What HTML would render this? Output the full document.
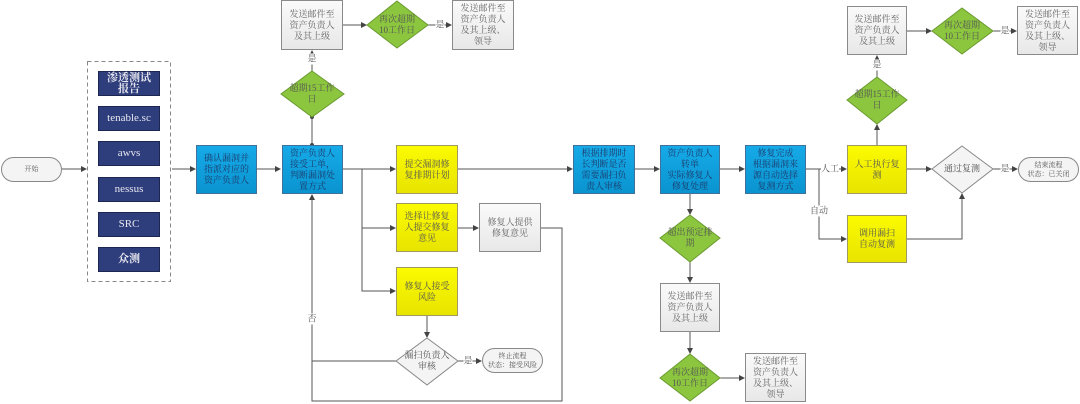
<!DOCTYPE html>
<html><head><meta charset="utf-8"><style>
body{margin:0;width:1080px;height:404px;background:#fff;overflow:hidden;position:relative;font-family:"Liberation Serif","Noto Serif CJK SC","Noto Sans CJK SC",serif;}
.b{position:absolute;box-sizing:border-box;display:flex;align-items:center;justify-content:center;text-align:center;font-size:9px;line-height:11px;padding:2px 4px;}
.blue{background:linear-gradient(#16aae8,#0a94d0);border:1px solid #41709a;color:#1d3a6a;}
.yel{background:linear-gradient(#fbfb00,#e8e400);border:1px solid #a09a60;color:#555;}
.gry{background:linear-gradient(#fafafa,#e8e8e8);border:1px solid #8a8a8a;color:#666;}
.nav{background:#2e3d7b;border:1px solid #1c2650;color:#e8e8f0;font-size:11px;}
.pill{border-radius:13px;background:#f4f4f4;border:1px solid #888;color:#555;font-size:7px;line-height:9px;}
.t{position:absolute;font-size:9px;color:#555;transform:translate(-50%,-50%);text-align:center;line-height:11px;white-space:nowrap;}
</style></head><body>
<svg width="1080" height="404" style="position:absolute;left:0;top:0">
<defs><marker id="a" markerWidth="6" markerHeight="6" refX="5" refY="3" orient="auto" markerUnits="userSpaceOnUse"><path d="M0,0L6,3L0,6z" fill="#444"/></marker></defs>
<g stroke="#555" stroke-width="1" fill="none">
<rect x="87.5" y="61.5" width="83" height="220" stroke-dasharray="4,3" stroke="#888"/>
<line x1="62" y1="169" x2="86" y2="169" marker-end="url(#a)"/>
<line x1="172" y1="169" x2="195" y2="169" marker-end="url(#a)"/>
<line x1="257" y1="169" x2="280" y2="169" marker-end="url(#a)"/>
<line x1="343" y1="169" x2="395" y2="169" marker-end="url(#a)"/>
<polyline points="362,169 362,291 395,291" marker-end="url(#a)"/>
<line x1="362" y1="228" x2="395" y2="228" marker-end="url(#a)"/>
<line x1="458" y1="228" x2="478" y2="228" marker-end="url(#a)"/>
<polyline points="541,228 562,228 562,401 312,401 312,195" marker-end="url(#a)"/>
<line x1="396" y1="361" x2="312" y2="361"/>
<line x1="427" y1="316" x2="427" y2="337" marker-end="url(#a)"/>
<line x1="458" y1="361" x2="481" y2="361" marker-end="url(#a)"/>
<line x1="312" y1="145" x2="312" y2="117"/>
<line x1="312" y1="71" x2="312" y2="51" marker-end="url(#a)"/>
<line x1="343" y1="25" x2="366" y2="25" marker-end="url(#a)"/>
<line x1="428" y1="25" x2="451" y2="25" marker-end="url(#a)"/>
<line x1="458" y1="169" x2="572" y2="169" marker-end="url(#a)"/>
<line x1="635" y1="169" x2="659" y2="169" marker-end="url(#a)"/>
<line x1="720" y1="169" x2="744" y2="169" marker-end="url(#a)"/>
<line x1="806" y1="169" x2="846" y2="169" marker-end="url(#a)"/>
<polyline points="819,169 819,239 846,239" marker-end="url(#a)"/>
<line x1="907" y1="169" x2="931" y2="169" marker-end="url(#a)"/>
<polyline points="907,239 962,239 962,194" marker-end="url(#a)"/>
<line x1="993" y1="169" x2="1017" y2="169" marker-end="url(#a)"/>
<line x1="877" y1="145" x2="877" y2="125" marker-end="url(#a)"/>
<line x1="877" y1="77" x2="877" y2="56" marker-end="url(#a)"/>
<line x1="907" y1="31" x2="931" y2="31" marker-end="url(#a)"/>
<line x1="993" y1="31" x2="1016" y2="31" marker-end="url(#a)"/>
<line x1="690" y1="194" x2="690" y2="214" marker-end="url(#a)"/>
<line x1="690" y1="262" x2="690" y2="282" marker-end="url(#a)"/>
<line x1="690" y1="332" x2="690" y2="353" marker-end="url(#a)"/>
<line x1="720" y1="378" x2="744" y2="378" marker-end="url(#a)"/>
</g>
<circle cx="312" cy="145" r="2" fill="#444"/><circle cx="312" cy="117" r="2" fill="#444"/>
<g stroke="#6a9a30" stroke-width="1" fill="#8cc63f">
<polygon points="312,71 344,94 312,117 281,94"/>
<polygon points="397,1 428,25 397,48 367,25"/>
<polygon points="877,77 907,100 877,124 847,100"/>
<polygon points="962,8 993,31 962,54 932,31"/>
<polygon points="690,215 720,238 690,262 660,238"/>
<polygon points="690,354 720,378 690,401 660,378"/>
</g>
<g stroke="#888" stroke-width="1" fill="#f4f4f4">
<polygon points="427,338 458,361 427,385 396,361"/>
<polygon points="962,146 993,169 962,193 932,169"/>
</g>
</svg>
<div class="b pill" style="left:1px;top:157px;width:61px;height:25px">开始</div>
<div class="b nav" style="left:98px;top:71px;width:62px;height:25px;font-weight:bold">渗透测试报告</div>
<div class="b nav" style="left:98px;top:106px;width:62px;height:25px">tenable.sc</div>
<div class="b nav" style="left:98px;top:141px;width:62px;height:25px">awvs</div>
<div class="b nav" style="left:98px;top:177px;width:62px;height:25px">nessus</div>
<div class="b nav" style="left:98px;top:212px;width:62px;height:25px">SRC</div>
<div class="b nav" style="left:98px;top:247px;width:62px;height:25px;font-weight:bold">众测</div>
<div class="b blue" style="left:196px;top:145px;width:61px;height:49px">确认漏洞并指派对应的资产负责人</div>
<div class="b blue" style="left:282px;top:145px;width:61px;height:49px">资产负责人接受工单，判断漏洞处置方式</div>
<div class="b gry" style="left:281px;top:0px;width:62px;height:50px">发送邮件至资产负责人及其上级</div>
<div class="b gry" style="left:452px;top:0px;width:62px;height:50px">发送邮件至资产负责人及其上级、领导</div>
<div class="b yel" style="left:396px;top:145px;width:62px;height:49px">提交漏洞修复排期计划</div>
<div class="b yel" style="left:396px;top:203px;width:62px;height:49px">选择让修复人提交修复意见</div>
<div class="b yel" style="left:396px;top:267px;width:62px;height:49px">修复人接受风险</div>
<div class="b gry" style="left:479px;top:203px;width:62px;height:49px">修复人提供修复意见</div>
<div class="b pill" style="left:482px;top:348px;width:61px;height:25px">终止流程<br>状态：接受风险</div>
<div class="b blue" style="left:573px;top:145px;width:62px;height:49px">根据排期时长判断是否需要漏扫负责人审核</div>
<div class="b blue" style="left:660px;top:145px;width:60px;height:49px">资产负责人转单<br>实际修复人修复处理</div>
<div class="b blue" style="left:745px;top:145px;width:61px;height:49px">修复完成<br>根据漏洞来源自动选择复测方式</div>
<div class="b yel" style="left:847px;top:145px;width:60px;height:49px">人工执行复测</div>
<div class="b yel" style="left:847px;top:215px;width:60px;height:48px">调用漏扫<br>自动复测</div>
<div class="b gry" style="left:847px;top:6px;width:60px;height:49px">发送邮件至资产负责人及其上级</div>
<div class="b gry" style="left:1017px;top:6px;width:61px;height:49px">发送邮件至资产负责人及其上级、领导</div>
<div class="b gry" style="left:660px;top:283px;width:60px;height:49px">发送邮件至资产负责人及其上级</div>
<div class="b gry" style="left:745px;top:353px;width:61px;height:49px">发送邮件至资产负责人及其上级、领导</div>
<div class="b pill" style="left:1018px;top:157px;width:61px;height:25px">结束流程<br>状态：已关闭</div>
<div class="t" style="left:312px;top:94px">超期15工作<br>日</div>
<div class="t" style="left:397px;top:25px">再次超期<br>10工作日</div>
<div class="t" style="left:877px;top:100px">超期15工作<br>日</div>
<div class="t" style="left:962px;top:31px">再次超期<br>10工作日</div>
<div class="t" style="left:690px;top:238px">超出预定排<br>期</div>
<div class="t" style="left:690px;top:378px">再次超期<br>10工作日</div>
<div class="t" style="left:427px;top:361px">漏扫负责人<br>审核</div>
<div class="t" style="left:962px;top:169px">通过复测</div>
<div class="t" style="left:312px;top:59px;background:#fff">是</div>
<div class="t" style="left:877px;top:65px;background:#fff">是</div>
<div class="t" style="left:440px;top:25px;background:#fff">是</div>
<div class="t" style="left:1005px;top:31px;background:#fff">是</div>
<div class="t" style="left:468px;top:361px;background:#fff">是</div>
<div class="t" style="left:1005px;top:169px;background:#fff">是</div>
<div class="t" style="left:312px;top:319px;background:#fff">否</div>
<div class="t" style="left:830px;top:169px;background:#fff">人工</div>
<div class="t" style="left:819px;top:211px;background:#fff">自动</div>
</body></html>
